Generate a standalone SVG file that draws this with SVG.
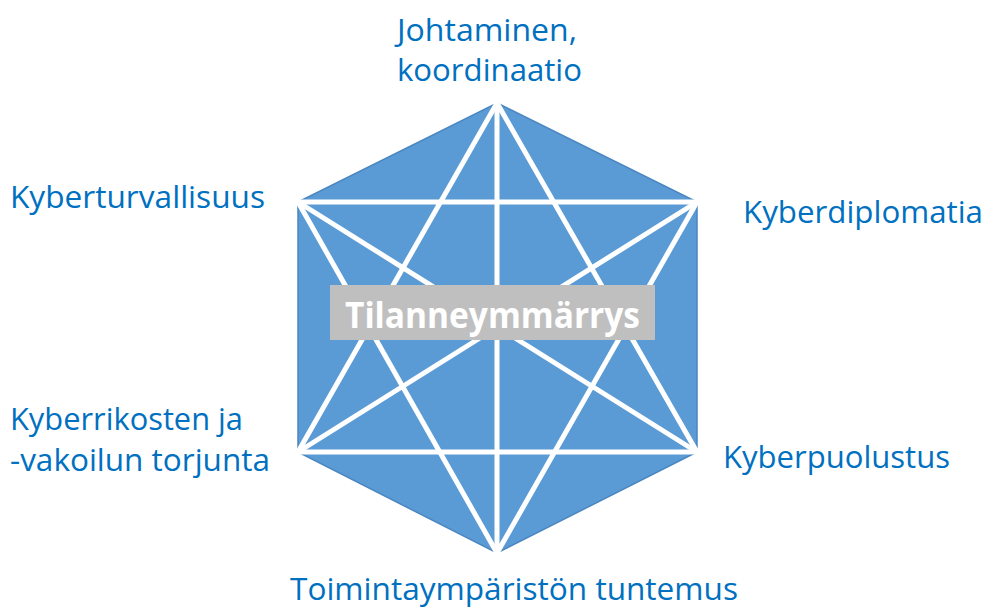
<svg xmlns="http://www.w3.org/2000/svg" width="988" height="610" viewBox="0 0 988 610">
<style>
.lbl{font-family:"Open Sans","Liberation Sans",sans-serif;font-size:31px;fill:#0070C0}
.ttl{font-family:"Open Sans","Liberation Sans",sans-serif;font-size:35px;font-weight:bold;fill:#FFFFFF}
.dg{stroke:#FFFFFF;stroke-width:5;stroke-linecap:round;fill:none}
</style>
<rect width="988" height="610" fill="#FFFFFF"/>
<g id="hexagon">
<polygon points="497,103 697,202 697,452 497,553 298,452 298,202" fill="#5B9BD5" stroke="#4A86C0" stroke-width="1.5"/>
</g>
<g id="connectors">
<line class="dg" x1="497" y1="103" x2="697" y2="452"/>
<line class="dg" x1="697" y1="452" x2="298" y2="452"/>
<line class="dg" x1="298" y1="452" x2="497" y2="103"/>
<line class="dg" x1="298" y1="202" x2="697" y2="202"/>
<line class="dg" x1="697" y1="202" x2="497" y2="553"/>
<line class="dg" x1="497" y1="553" x2="298" y2="202"/>
<line class="dg" x1="497" y1="103" x2="497" y2="553"/>
<line class="dg" x1="298" y1="202" x2="697" y2="452"/>
<line class="dg" x1="697" y1="202" x2="298" y2="452"/>
</g>
<g id="center">
<rect x="330" y="285" width="325" height="55" fill="#BFBFBF"/>
<text class="ttl" x="345" y="328" textLength="295" lengthAdjust="spacingAndGlyphs">Tilanneymmärrys</text>
</g>
<g id="n-top">
<text class="lbl" x="397" y="41" textLength="180" lengthAdjust="spacingAndGlyphs">Johtaminen,</text>
<text class="lbl" x="397" y="81" textLength="185" lengthAdjust="spacingAndGlyphs">koordinaatio</text>
</g>
<g id="n-upper-left">
<text class="lbl" x="10" y="208" textLength="255" lengthAdjust="spacingAndGlyphs">Kyberturvallisuus</text>
</g>
<g id="n-upper-right">
<text class="lbl" x="743" y="223" textLength="240" lengthAdjust="spacingAndGlyphs">Kyberdiplomatia</text>
</g>
<g id="n-lower-left">
<text class="lbl" x="10" y="430" textLength="233" lengthAdjust="spacingAndGlyphs">Kyberrikosten ja</text>
<text class="lbl" x="10" y="471" textLength="260" lengthAdjust="spacingAndGlyphs">-vakoilun torjunta</text>
</g>
<g id="n-lower-right">
<text class="lbl" x="723" y="468" textLength="227" lengthAdjust="spacingAndGlyphs">Kyberpuolustus</text>
</g>
<g id="n-bottom">
<text class="lbl" x="290" y="600" textLength="448" lengthAdjust="spacingAndGlyphs">Toimintaympäristön tuntemus</text>
</g>
</svg>
